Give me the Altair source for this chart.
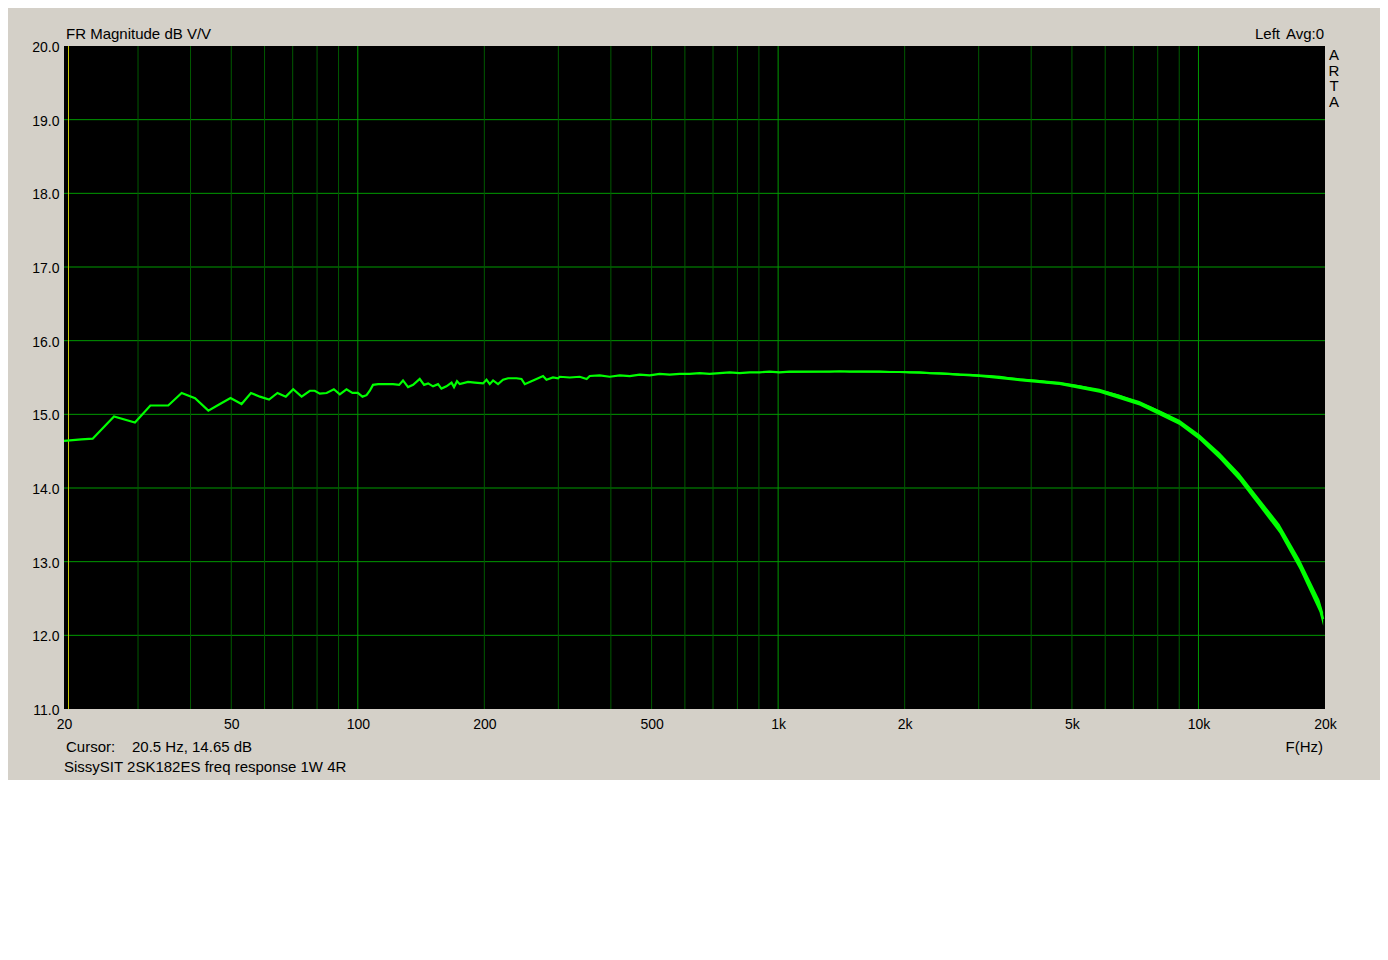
import altair as alt
import pandas as pd

# ---------------- data ----------------
freq_hz = [20, 22.0, 23.4, 26.3, 29.5, 32.1, 35.4, 38.1, 41.0, 44.1, 47.0, 49.8, 52.9, 55.7, 58.5,
           61.5, 64.4, 67.4, 70.2, 73.5, 76.9, 79.0, 81.2, 84.3, 87.7, 90.6, 94.0, 97.1, 100,
           102.6, 104.9, 106.8, 108.7, 111.8, 121.3, 125.4, 128.1, 131.7, 135.4, 140.4, 143.8,
           147.0, 151.0, 155.2, 158.1, 162.5, 167.1, 169.4, 172.2, 174.8, 182.9, 189.8, 198.6,
           202.4, 206.0, 209.8, 215.6, 221.6, 227.8, 238.5, 245.1, 249.6, 256.4, 266.1, 275.9,
           281.1, 291.3, 299.5,
           302.3, 319.4, 337.3, 350.4, 356.3, 376.3, 397.5, 419.9, 443.6, 468.4, 494.8, 522.6,
           552.1, 583.2, 615.9, 650.6, 687.2, 725.9, 766.8, 809.7, 855.3, 903.6, 954.5,
           1008, 1065, 1125, 1188, 1255, 1326, 1401, 1479, 1563, 1651, 1744, 1842, 1945, 2055,
           2171, 2293, 2422, 2558, 2702, 2854, 3015, 3184, 3364, 3552, 3752, 3963, 4187, 4422,
           4670, 4933, 5212, 5505, 5815, 6141, 6487, 6853, 7239, 7646, 8076, 8531, 9012, 9519,
           10055, 10622, 11218, 11850, 12518, 13223, 13968, 14752, 15583, 16461, 17387, 18367,
           19402, 19800]
mag_db = [14.64, 14.66, 14.67, 14.97, 14.89, 15.12, 15.12, 15.29, 15.22, 15.05, 15.14, 15.22, 15.14,
          15.29, 15.24, 15.20, 15.29, 15.24, 15.34, 15.24, 15.32, 15.32, 15.28, 15.29, 15.34, 15.27,
          15.34, 15.29, 15.29, 15.24, 15.26, 15.32, 15.40, 15.41, 15.41, 15.40, 15.46, 15.37, 15.40,
          15.48, 15.40, 15.42, 15.38, 15.41, 15.35, 15.38, 15.43, 15.37, 15.45, 15.41, 15.44, 15.43,
          15.42, 15.47, 15.41, 15.46, 15.41, 15.47, 15.49, 15.49, 15.48, 15.41, 15.44, 15.48, 15.52,
          15.47, 15.50, 15.49,
          15.51, 15.50, 15.51, 15.48, 15.52, 15.53, 15.51, 15.53, 15.52, 15.54, 15.53, 15.55,
          15.54, 15.55, 15.55, 15.56, 15.55, 15.56, 15.57, 15.56, 15.57, 15.57, 15.58,
          15.57, 15.58, 15.58, 15.58, 15.58, 15.58, 15.585, 15.58, 15.58, 15.58, 15.58, 15.575,
          15.575, 15.57, 15.57, 15.56, 15.555, 15.55, 15.54, 15.535, 15.525, 15.52, 15.51, 15.49,
          15.47, 15.46, 15.45, 15.43, 15.42, 15.40, 15.38, 15.35, 15.32, 15.29, 15.25, 15.20,
          15.15, 15.10, 15.04, 14.97, 14.89, 14.80, 14.69, 14.57, 14.44, 14.31, 14.15, 13.97,
          13.80, 13.63, 13.45, 13.22, 12.97, 12.70, 12.40, 12.22]

# noise band (half spread in dB) visible at high frequencies
band_freq = [1008, 1255, 1563, 1945, 2422, 3015, 3752, 4670, 5815, 7239, 9012, 10055, 11218,
             12518, 13968, 15583, 17387, 19402, 19800]
band_center = [15.57, 15.58, 15.58, 15.575, 15.555, 15.525, 15.47, 15.42, 15.32, 15.15, 14.89,
               14.69, 14.44, 14.15, 13.80, 13.45, 12.97, 12.40, 12.22]
band_spread = [0.008, 0.009, 0.010, 0.012, 0.014, 0.017, 0.020, 0.023, 0.027, 0.031, 0.036,
               0.040, 0.045, 0.050, 0.055, 0.060, 0.068, 0.082, 0.09]

db_grid = [12, 13, 14, 15, 16, 17, 18, 19]
minor_freqs = [30, 40, 50, 60, 70, 80, 90, 200, 300, 400, 500, 600, 700, 800, 900,
               2000, 3000, 4000, 5000, 6000, 7000, 8000, 9000]
major_freqs = [100, 1000, 10000]
cursor_hz = [20.5]
x_tick_values = [20, 50, 100, 200, 500, 1000, 2000, 5000, 10000, 20000]
y_tick_values = [11, 12, 13, 14, 15, 16, 17, 18, 19, 20]

FONT = "Liberation Sans"
FS = 15
TICK_FS = 14
GREEN = "#00FF00"

curve = pd.DataFrame({"f": freq_hz, "db": mag_db})
band = pd.DataFrame({"f": band_freq, "c": band_center, "s": band_spread})
band["lo"] = band["c"] - band["s"]
band["hi"] = band["c"] + band["s"]

xs = alt.Scale(type="log", domain=[20, 20000], nice=False)
ys = alt.Scale(domain=[11, 20], nice=False, zero=False)

x_axis = alt.Axis(
    values=x_tick_values, title=None, grid=False, ticks=False, domain=False,
    labelExpr="datum.value >= 1000 ? (datum.value / 1000) + 'k' : datum.value",
    labelFont=FONT, labelFontSize=TICK_FS, labelColor="black", labelPadding=8,
    labelFlush=False, labelOverlap=False)
y_axis = alt.Axis(
    values=y_tick_values, format=".1f", title=None, grid=False, ticks=False, domain=False,
    labelFont=FONT, labelFontSize=TICK_FS, labelColor="black", labelPadding=5,
    labelBaseline="middle", labelOffset=1.5)

hgrid = alt.Chart(pd.DataFrame({"v": db_grid})).mark_rule(color="#009A00", strokeWidth=1).encode(
    y=alt.Y("v:Q", scale=ys, axis=y_axis))
vminor = alt.Chart(pd.DataFrame({"f": minor_freqs})).mark_rule(color="#005A00", strokeWidth=1).encode(
    x=alt.X("f:Q", scale=xs, axis=x_axis))
vmajor = alt.Chart(pd.DataFrame({"f": major_freqs})).mark_rule(color="#009A00", strokeWidth=1).encode(
    x=alt.X("f:Q", scale=xs, axis=x_axis))
cursor = alt.Chart(pd.DataFrame({"f": cursor_hz})).mark_rule(color="#C8C800", strokeWidth=1).encode(
    x=alt.X("f:Q", scale=xs, axis=x_axis))

band_layer = alt.Chart(band).mark_area(color=GREEN, opacity=1).encode(
    x=alt.X("f:Q", scale=xs, axis=x_axis),
    y=alt.Y("lo:Q", scale=ys, axis=y_axis),
    y2="hi:Q")

line = alt.Chart(curve).mark_line(color=GREEN, strokeWidth=2.2, interpolate="linear").encode(
    x=alt.X("f:Q", scale=xs, axis=x_axis),
    y=alt.Y("db:Q", scale=ys, axis=y_axis))


def txt(label, x, y, align="left", **kw):
    return alt.Chart(pd.DataFrame({"t": [label]})).mark_text(
        font=FONT, fontSize=FS, color="black", align=align, baseline="middle", **kw).encode(
        x=alt.value(x), y=alt.value(y), text=alt.Text("t:N"))


texts = [
    txt("FR Magnitude dB V/V", 2, -12),
    txt("Left", 1216, -12, align="right"),
    txt("Avg:0", 1260, -12, align="right"),
    txt("A\nR\nT\nA", 1270, 9, align="center", lineBreak="\n", lineHeight=15.5),
    txt("Cursor:", 2, 701),
    txt("20.5 Hz, 14.65 dB", 68, 701),
    txt("F(Hz)", 1259, 701, align="right"),
    txt("SissySIT 2SK182ES freq response 1W 4R", 0, 721),
]

chart = alt.layer(hgrid, vminor, vmajor, cursor, band_layer, line, *texts).properties(
    width=1261, height=663,
    autosize=alt.AutoSizeParams(type="none"),
    padding={"left": 56, "top": 38, "right": 55, "bottom": 71},
    background="#D4D0C8",
).configure_view(fill="black", stroke=None)

chart.save("out.html", embed_options={"renderer": "svg", "actions": False})
